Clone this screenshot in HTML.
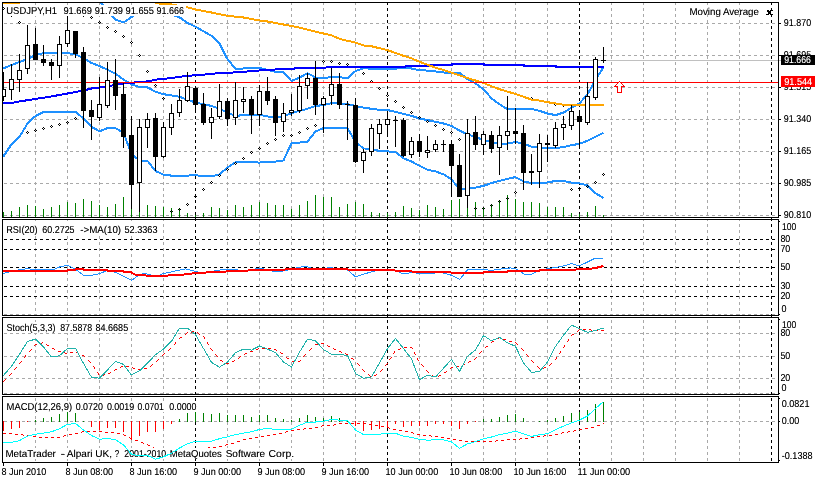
<!DOCTYPE html><html><head><meta charset="utf-8"><title>USDJPY,H1</title><style>html,body{margin:0;padding:0;background:#fff}svg{display:block}text{font-family:"Liberation Sans",sans-serif;font-size:10px}</style></head><body>
<svg width="816" height="479" viewBox="0 0 816 479" shape-rendering="crispEdges">
<rect x="0" y="0" width="816" height="479" fill="#fff"/>
<defs>
<clipPath id="cm"><rect x="3" y="3" width="775" height="214"/></clipPath>
<clipPath id="cr"><rect x="3" y="220" width="775" height="95"/></clipPath>
<clipPath id="cs"><rect x="3" y="318" width="775" height="76"/></clipPath>
<clipPath id="cd"><rect x="3" y="397" width="775" height="65"/></clipPath>
<clipPath id="call"><rect x="3" y="3" width="775" height="214"/><rect x="3" y="220" width="775" height="95"/><rect x="3" y="318" width="775" height="76"/><rect x="3" y="397" width="775" height="65"/></clipPath>
<filter id="th" x="-5%" y="-20%" width="110%" height="140%" color-interpolation-filters="sRGB"><feComponentTransfer><feFuncA type="gamma" amplitude="1.05" exponent="0.8" offset="0"/></feComponentTransfer></filter>
</defs>
<g clip-path="url(#call)">
<line x1="35.5" y1="2" x2="35.5" y2="462" stroke="#a9a9a9" stroke-width="1" stroke-dasharray="3 3"/>
<line x1="67.5" y1="2" x2="67.5" y2="462" stroke="#a9a9a9" stroke-width="1" stroke-dasharray="3 3"/>
<line x1="99.5" y1="2" x2="99.5" y2="462" stroke="#a9a9a9" stroke-width="1" stroke-dasharray="3 3"/>
<line x1="131.5" y1="2" x2="131.5" y2="462" stroke="#a9a9a9" stroke-width="1" stroke-dasharray="3 3"/>
<line x1="163.5" y1="2" x2="163.5" y2="462" stroke="#a9a9a9" stroke-width="1" stroke-dasharray="3 3"/>
<line x1="227.5" y1="2" x2="227.5" y2="462" stroke="#a9a9a9" stroke-width="1" stroke-dasharray="3 3"/>
<line x1="259.5" y1="2" x2="259.5" y2="462" stroke="#a9a9a9" stroke-width="1" stroke-dasharray="3 3"/>
<line x1="291.5" y1="2" x2="291.5" y2="462" stroke="#a9a9a9" stroke-width="1" stroke-dasharray="3 3"/>
<line x1="323.5" y1="2" x2="323.5" y2="462" stroke="#a9a9a9" stroke-width="1" stroke-dasharray="3 3"/>
<line x1="355.5" y1="2" x2="355.5" y2="462" stroke="#a9a9a9" stroke-width="1" stroke-dasharray="3 3"/>
<line x1="419.5" y1="2" x2="419.5" y2="462" stroke="#a9a9a9" stroke-width="1" stroke-dasharray="3 3"/>
<line x1="451.5" y1="2" x2="451.5" y2="462" stroke="#a9a9a9" stroke-width="1" stroke-dasharray="3 3"/>
<line x1="483.5" y1="2" x2="483.5" y2="462" stroke="#a9a9a9" stroke-width="1" stroke-dasharray="3 3"/>
<line x1="515.5" y1="2" x2="515.5" y2="462" stroke="#a9a9a9" stroke-width="1" stroke-dasharray="3 3"/>
<line x1="547.5" y1="2" x2="547.5" y2="462" stroke="#a9a9a9" stroke-width="1" stroke-dasharray="3 3"/>
<line x1="611.5" y1="2" x2="611.5" y2="462" stroke="#a9a9a9" stroke-width="1" stroke-dasharray="3 3"/>
<line x1="643.5" y1="2" x2="643.5" y2="462" stroke="#a9a9a9" stroke-width="1" stroke-dasharray="3 3"/>
<line x1="675.5" y1="2" x2="675.5" y2="462" stroke="#a9a9a9" stroke-width="1" stroke-dasharray="3 3"/>
<line x1="707.5" y1="2" x2="707.5" y2="462" stroke="#a9a9a9" stroke-width="1" stroke-dasharray="3 3"/>
<line x1="739.5" y1="2" x2="739.5" y2="462" stroke="#a9a9a9" stroke-width="1" stroke-dasharray="3 3"/>
<line x1="4" y1="23.5" x2="778" y2="23.5" stroke="#a9a9a9" stroke-width="1" stroke-dasharray="3 3"/>
<line x1="4" y1="55.5" x2="778" y2="55.5" stroke="#a9a9a9" stroke-width="1" stroke-dasharray="3 3"/>
<line x1="4" y1="87.5" x2="778" y2="87.5" stroke="#a9a9a9" stroke-width="1" stroke-dasharray="3 3"/>
<line x1="4" y1="119.5" x2="778" y2="119.5" stroke="#a9a9a9" stroke-width="1" stroke-dasharray="3 3"/>
<line x1="4" y1="151.5" x2="778" y2="151.5" stroke="#a9a9a9" stroke-width="1" stroke-dasharray="3 3"/>
<line x1="4" y1="183.5" x2="778" y2="183.5" stroke="#a9a9a9" stroke-width="1" stroke-dasharray="3 3"/>
<line x1="4" y1="215.5" x2="778" y2="215.5" stroke="#a9a9a9" stroke-width="1" stroke-dasharray="3 3"/>
<line x1="4" y1="314.5" x2="778" y2="314.5" stroke="#a9a9a9" stroke-width="1" stroke-dasharray="3 3"/>
<line x1="4" y1="333.5" x2="778" y2="333.5" stroke="#a9a9a9" stroke-width="1" stroke-dasharray="3 3"/>
<line x1="4" y1="356.5" x2="778" y2="356.5" stroke="#a9a9a9" stroke-width="1" stroke-dasharray="3 3"/>
<line x1="4" y1="378.5" x2="778" y2="378.5" stroke="#a9a9a9" stroke-width="1" stroke-dasharray="3 3"/>
<line x1="4" y1="393.5" x2="778" y2="393.5" stroke="#a9a9a9" stroke-width="1" stroke-dasharray="3 3"/>
<line x1="4" y1="421.5" x2="778" y2="421.5" stroke="#a9a9a9" stroke-width="1" stroke-dasharray="3 3"/>
</g>
<line x1="195.5" y1="2" x2="195.5" y2="462" stroke="#000" stroke-width="1" stroke-dasharray="3 3"/>
<line x1="387.5" y1="2" x2="387.5" y2="462" stroke="#000" stroke-width="1" stroke-dasharray="3 3"/>
<line x1="579.5" y1="2" x2="579.5" y2="462" stroke="#000" stroke-width="1" stroke-dasharray="3 3"/>
<line x1="771.5" y1="2" x2="771.5" y2="462" stroke="#000" stroke-width="1" stroke-dasharray="3 3"/>
<g clip-path="url(#cr)">
<line x1="4" y1="239.5" x2="778" y2="239.5" stroke="#000" stroke-width="1" stroke-dasharray="3 3"/>
<line x1="4" y1="249.5" x2="778" y2="249.5" stroke="#000" stroke-width="1" stroke-dasharray="3 3"/>
<line x1="4" y1="267.5" x2="778" y2="267.5" stroke="#000" stroke-width="1" stroke-dasharray="3 3"/>
<line x1="4" y1="286.5" x2="778" y2="286.5" stroke="#000" stroke-width="1" stroke-dasharray="3 3"/>
<line x1="4" y1="296.5" x2="778" y2="296.5" stroke="#000" stroke-width="1" stroke-dasharray="3 3"/>
</g>
<g clip-path="url(#cm)">
<rect x="3" y="60" width="775" height="1" fill="#c0c0c0"/>
<rect x="3" y="212" width="1" height="5" fill="#008000"/>
<rect x="11" y="211" width="1" height="6" fill="#008000"/>
<rect x="19" y="207" width="1" height="10" fill="#008000"/>
<rect x="27" y="205" width="1" height="12" fill="#008000"/>
<rect x="35" y="206" width="1" height="11" fill="#008000"/>
<rect x="43" y="209" width="1" height="8" fill="#008000"/>
<rect x="51" y="207" width="1" height="10" fill="#008000"/>
<rect x="59" y="205" width="1" height="12" fill="#008000"/>
<rect x="67" y="202" width="1" height="15" fill="#008000"/>
<rect x="75" y="203" width="1" height="14" fill="#008000"/>
<rect x="83" y="199" width="1" height="18" fill="#008000"/>
<rect x="91" y="201" width="1" height="16" fill="#008000"/>
<rect x="99" y="205" width="1" height="12" fill="#008000"/>
<rect x="107" y="207" width="1" height="10" fill="#008000"/>
<rect x="115" y="204" width="1" height="13" fill="#008000"/>
<rect x="123" y="197" width="1" height="20" fill="#008000"/>
<rect x="131" y="195" width="1" height="22" fill="#008000"/>
<rect x="139" y="200" width="1" height="17" fill="#008000"/>
<rect x="147" y="205" width="1" height="12" fill="#008000"/>
<rect x="155" y="206" width="1" height="11" fill="#008000"/>
<rect x="163" y="207" width="1" height="10" fill="#008000"/>
<rect x="171" y="208" width="1" height="9" fill="#008000"/>
<rect x="179" y="208" width="1" height="9" fill="#008000"/>
<rect x="187" y="213" width="1" height="4" fill="#008000"/>
<rect x="195" y="215" width="1" height="2" fill="#008000"/>
<rect x="203" y="213" width="1" height="4" fill="#008000"/>
<rect x="211" y="207" width="1" height="10" fill="#008000"/>
<rect x="219" y="208" width="1" height="9" fill="#008000"/>
<rect x="227" y="210" width="1" height="7" fill="#008000"/>
<rect x="235" y="205" width="1" height="12" fill="#008000"/>
<rect x="243" y="207" width="1" height="10" fill="#008000"/>
<rect x="251" y="205" width="1" height="12" fill="#008000"/>
<rect x="259" y="202" width="1" height="15" fill="#008000"/>
<rect x="267" y="203" width="1" height="14" fill="#008000"/>
<rect x="275" y="205" width="1" height="12" fill="#008000"/>
<rect x="283" y="205" width="1" height="12" fill="#008000"/>
<rect x="291" y="209" width="1" height="8" fill="#008000"/>
<rect x="299" y="205" width="1" height="12" fill="#008000"/>
<rect x="307" y="201" width="1" height="16" fill="#008000"/>
<rect x="315" y="195" width="1" height="22" fill="#008000"/>
<rect x="323" y="197" width="1" height="20" fill="#008000"/>
<rect x="331" y="197" width="1" height="20" fill="#008000"/>
<rect x="339" y="207" width="1" height="10" fill="#008000"/>
<rect x="347" y="204" width="1" height="13" fill="#008000"/>
<rect x="355" y="202" width="1" height="15" fill="#008000"/>
<rect x="363" y="204" width="1" height="13" fill="#008000"/>
<rect x="371" y="212" width="1" height="5" fill="#008000"/>
<rect x="379" y="213" width="1" height="4" fill="#008000"/>
<rect x="387" y="213" width="1" height="4" fill="#008000"/>
<rect x="395" y="212" width="1" height="5" fill="#008000"/>
<rect x="403" y="206" width="1" height="11" fill="#008000"/>
<rect x="411" y="208" width="1" height="9" fill="#008000"/>
<rect x="419" y="210" width="1" height="7" fill="#008000"/>
<rect x="427" y="205" width="1" height="12" fill="#008000"/>
<rect x="435" y="207" width="1" height="10" fill="#008000"/>
<rect x="443" y="209" width="1" height="8" fill="#008000"/>
<rect x="451" y="200" width="1" height="17" fill="#008000"/>
<rect x="459" y="199" width="1" height="18" fill="#008000"/>
<rect x="467" y="200" width="1" height="17" fill="#008000"/>
<rect x="475" y="202" width="1" height="15" fill="#008000"/>
<rect x="483" y="207" width="1" height="10" fill="#008000"/>
<rect x="491" y="204" width="1" height="13" fill="#008000"/>
<rect x="499" y="201" width="1" height="16" fill="#008000"/>
<rect x="507" y="195" width="1" height="22" fill="#008000"/>
<rect x="515" y="199" width="1" height="18" fill="#008000"/>
<rect x="523" y="202" width="1" height="15" fill="#008000"/>
<rect x="531" y="202" width="1" height="15" fill="#008000"/>
<rect x="539" y="203" width="1" height="14" fill="#008000"/>
<rect x="547" y="207" width="1" height="10" fill="#008000"/>
<rect x="555" y="207" width="1" height="10" fill="#008000"/>
<rect x="563" y="207" width="1" height="10" fill="#008000"/>
<rect x="571" y="213" width="1" height="4" fill="#008000"/>
<rect x="579" y="214" width="1" height="3" fill="#008000"/>
<rect x="587" y="212" width="1" height="5" fill="#008000"/>
<rect x="595" y="206" width="1" height="11" fill="#008000"/>
<rect x="603" y="215" width="1" height="2" fill="#008000"/>
<polyline points="3.0,-20.0 11.5,-20.0 19.5,-20.0 27.5,-20.0 35.5,-20.0 43.5,-20.0 51.5,-20.0 59.5,-20.0 67.5,-20.0 75.5,-20.0 83.5,-20.0 91.5,-20.0 99.5,1.0 107.5,11.0 115.5,19.5 123.5,22.5 131.5,17.0 139.5,12.0 147.5,10.0 155.5,10.0 163.5,12.0 171.5,14.5 179.5,17.3 187.5,23.0 195.5,26.7 203.5,31.3 211.5,35.9 219.5,43.6 227.5,59.2 235.5,68.8 243.5,68.5 251.5,67.7 259.5,67.7 267.5,70.0 275.5,71.7 283.5,72.0 291.5,81.0 299.5,77.6 307.5,73.2 315.5,77.5 323.5,78.2 331.5,77.0 339.5,77.0 347.5,78.5 355.5,71.0 363.5,68.2 371.5,68.8 379.5,69.0 387.5,69.3 395.5,68.8 403.5,67.5 411.5,68.5 419.5,70.2 427.5,70.6 435.5,71.5 443.5,72.5 451.5,72.7 459.5,72.7 467.5,79.2 475.5,83.4 483.5,89.2 491.5,98.4 499.5,104.3 507.5,109.3 515.5,108.8 523.5,108.8 531.5,108.8 539.5,110.9 547.5,113.5 555.5,115.1 563.5,112.6 571.5,107.6 579.5,103.4 587.5,94.2 595.5,80.0 603.5,67.2" fill="none" stroke="#1e90ff" stroke-width="2" stroke-linejoin="round"/>
<polyline points="3.0,68.5 11.5,65.0 19.5,62.0 27.5,59.0 35.5,55.0 43.5,53.2 51.5,53.0 59.5,53.0 67.5,53.0 75.5,54.5 83.5,58.0 91.5,63.0 99.5,66.0 107.5,69.8 115.5,73.8 123.5,79.5 131.5,84.5 139.5,87.0 147.5,87.5 155.5,91.7 163.5,94.2 171.5,95.4 179.5,96.7 187.5,99.7 195.5,102.6 203.5,104.3 211.5,105.9 219.5,108.8 227.5,112.6 235.5,115.9 243.5,115.1 251.5,114.8 259.5,114.8 267.5,116.4 275.5,117.6 283.5,116.4 291.5,113.1 299.5,110.9 307.5,108.8 315.5,105.9 323.5,105.1 331.5,103.1 339.5,103.1 347.5,104.3 355.5,105.9 363.5,107.6 371.5,108.8 379.5,109.8 387.5,110.1 395.5,111.8 403.5,113.8 411.5,115.8 419.5,118.5 427.5,120.1 435.5,121.8 443.5,123.5 451.5,126.0 459.5,130.5 467.5,134.3 475.5,136.8 483.5,140.2 491.5,142.2 499.5,144.0 507.5,143.6 515.5,142.1 523.5,143.4 531.5,146.8 539.5,147.6 547.5,147.6 555.5,148.0 563.5,147.1 571.5,145.2 579.5,143.8 587.5,140.7 595.5,136.8 603.5,132.7" fill="none" stroke="#1e90ff" stroke-width="2" stroke-linejoin="round"/>
<polyline points="3.0,157.0 11.5,144.3 19.5,136.8 27.5,123.5 35.5,116.0 43.5,112.1 51.5,111.8 59.5,111.8 67.5,111.8 75.5,111.8 83.5,118.5 91.5,126.8 99.5,131.3 107.5,128.1 115.5,128.1 123.5,132.7 131.5,154.2 139.5,160.3 147.5,160.9 155.5,170.9 163.5,174.8 171.5,175.6 179.5,175.6 187.5,175.6 195.5,175.1 203.5,176.4 211.5,176.4 219.5,174.3 227.5,167.6 235.5,162.2 243.5,161.7 251.5,162.2 259.5,162.6 267.5,161.7 275.5,161.6 283.5,160.4 291.5,143.2 299.5,142.6 307.5,141.6 315.5,131.5 323.5,128.1 331.5,128.1 339.5,128.1 347.5,128.1 355.5,141.8 363.5,148.5 371.5,148.6 379.5,151.2 387.5,151.4 395.5,152.0 403.5,158.4 411.5,161.5 419.5,165.9 427.5,169.7 435.5,171.4 443.5,174.3 451.5,179.3 459.5,189.5 467.5,188.3 475.5,187.6 483.5,185.9 491.5,183.1 499.5,180.9 507.5,178.8 515.5,177.1 523.5,181.4 531.5,183.1 539.5,183.1 547.5,182.5 555.5,180.9 563.5,180.9 571.5,182.6 579.5,183.4 587.5,185.4 595.5,193.1 603.5,198.1" fill="none" stroke="#1e90ff" stroke-width="2" stroke-linejoin="round"/>
<path d="M19 21h1v1h1v1h-1v1h-1v-1h-1v-1h1z M19 22v1h1v-1z" fill="#000" fill-rule="evenodd"/>
<path d="M27 131h1v1h1v1h-1v1h-1v-1h-1v-1h1z M27 132v1h1v-1z" fill="#000" fill-rule="evenodd"/>
<path d="M35 129h1v1h1v1h-1v1h-1v-1h-1v-1h1z M35 130v1h1v-1z" fill="#000" fill-rule="evenodd"/>
<path d="M43 127h1v1h1v1h-1v1h-1v-1h-1v-1h1z M43 128v1h1v-1z" fill="#000" fill-rule="evenodd"/>
<path d="M51 125h1v1h1v1h-1v1h-1v-1h-1v-1h1z M51 126v1h1v-1z" fill="#000" fill-rule="evenodd"/>
<path d="M59 123h1v1h1v1h-1v1h-1v-1h-1v-1h1z M59 124v1h1v-1z" fill="#000" fill-rule="evenodd"/>
<path d="M67 121h1v1h1v1h-1v1h-1v-1h-1v-1h1z M67 122v1h1v-1z" fill="#000" fill-rule="evenodd"/>
<path d="M75 117h1v1h1v1h-1v1h-1v-1h-1v-1h1z M75 118v1h1v-1z" fill="#000" fill-rule="evenodd"/>
<path d="M91 16h1v1h1v1h-1v1h-1v-1h-1v-1h1z M91 17v1h1v-1z" fill="#000" fill-rule="evenodd"/>
<path d="M99 21h1v1h1v1h-1v1h-1v-1h-1v-1h1z M99 22v1h1v-1z" fill="#000" fill-rule="evenodd"/>
<path d="M107 26h1v1h1v1h-1v1h-1v-1h-1v-1h1z M107 27v1h1v-1z" fill="#000" fill-rule="evenodd"/>
<path d="M115 30h1v1h1v1h-1v1h-1v-1h-1v-1h1z M115 31v1h1v-1z" fill="#000" fill-rule="evenodd"/>
<path d="M123 35h1v1h1v1h-1v1h-1v-1h-1v-1h1z M123 36v1h1v-1z" fill="#000" fill-rule="evenodd"/>
<path d="M131 41h1v1h1v1h-1v1h-1v-1h-1v-1h1z M131 42v1h1v-1z" fill="#000" fill-rule="evenodd"/>
<path d="M139 54h1v1h1v1h-1v1h-1v-1h-1v-1h1z M139 55v1h1v-1z" fill="#000" fill-rule="evenodd"/>
<path d="M147 70h1v1h1v1h-1v1h-1v-1h-1v-1h1z M147 71v1h1v-1z" fill="#000" fill-rule="evenodd"/>
<path d="M155 84h1v1h1v1h-1v1h-1v-1h-1v-1h1z M155 85v1h1v-1z" fill="#000" fill-rule="evenodd"/>
<path d="M163 97h1v1h1v1h-1v1h-1v-1h-1v-1h1z M163 98v1h1v-1z" fill="#000" fill-rule="evenodd"/>
<path d="M171 210h1v1h1v1h-1v1h-1v-1h-1v-1h1z M171 211v1h1v-1z" fill="#000" fill-rule="evenodd"/>
<path d="M179 208h1v1h1v1h-1v1h-1v-1h-1v-1h1z M179 209v1h1v-1z" fill="#000" fill-rule="evenodd"/>
<path d="M187 203h1v1h1v1h-1v1h-1v-1h-1v-1h1z M187 204v1h1v-1z" fill="#000" fill-rule="evenodd"/>
<path d="M195 195h1v1h1v1h-1v1h-1v-1h-1v-1h1z M195 196v1h1v-1z" fill="#000" fill-rule="evenodd"/>
<path d="M203 188h1v1h1v1h-1v1h-1v-1h-1v-1h1z M203 189v1h1v-1z" fill="#000" fill-rule="evenodd"/>
<path d="M211 181h1v1h1v1h-1v1h-1v-1h-1v-1h1z M211 182v1h1v-1z" fill="#000" fill-rule="evenodd"/>
<path d="M219 174h1v1h1v1h-1v1h-1v-1h-1v-1h1z M219 175v1h1v-1z" fill="#000" fill-rule="evenodd"/>
<path d="M227 168h1v1h1v1h-1v1h-1v-1h-1v-1h1z M227 169v1h1v-1z" fill="#000" fill-rule="evenodd"/>
<path d="M235 162h1v1h1v1h-1v1h-1v-1h-1v-1h1z M235 163v1h1v-1z" fill="#000" fill-rule="evenodd"/>
<path d="M243 157h1v1h1v1h-1v1h-1v-1h-1v-1h1z M243 158v1h1v-1z" fill="#000" fill-rule="evenodd"/>
<path d="M251 151h1v1h1v1h-1v1h-1v-1h-1v-1h1z M251 152v1h1v-1z" fill="#000" fill-rule="evenodd"/>
<path d="M259 147h1v1h1v1h-1v1h-1v-1h-1v-1h1z M259 148v1h1v-1z" fill="#000" fill-rule="evenodd"/>
<path d="M267 142h1v1h1v1h-1v1h-1v-1h-1v-1h1z M267 143v1h1v-1z" fill="#000" fill-rule="evenodd"/>
<path d="M275 138h1v1h1v1h-1v1h-1v-1h-1v-1h1z M275 139v1h1v-1z" fill="#000" fill-rule="evenodd"/>
<path d="M283 134h1v1h1v1h-1v1h-1v-1h-1v-1h1z M283 135v1h1v-1z" fill="#000" fill-rule="evenodd"/>
<path d="M291 134h1v1h1v1h-1v1h-1v-1h-1v-1h1z M291 135v1h1v-1z" fill="#000" fill-rule="evenodd"/>
<path d="M299 131h1v1h1v1h-1v1h-1v-1h-1v-1h1z M299 132v1h1v-1z" fill="#000" fill-rule="evenodd"/>
<path d="M307 127h1v1h1v1h-1v1h-1v-1h-1v-1h1z M307 128v1h1v-1z" fill="#000" fill-rule="evenodd"/>
<path d="M315 124h1v1h1v1h-1v1h-1v-1h-1v-1h1z M315 125v1h1v-1z" fill="#000" fill-rule="evenodd"/>
<path d="M323 60h1v1h1v1h-1v1h-1v-1h-1v-1h1z M323 61v1h1v-1z" fill="#000" fill-rule="evenodd"/>
<path d="M331 60h1v1h1v1h-1v1h-1v-1h-1v-1h1z M331 61v1h1v-1z" fill="#000" fill-rule="evenodd"/>
<path d="M339 62h1v1h1v1h-1v1h-1v-1h-1v-1h1z M339 63v1h1v-1z" fill="#000" fill-rule="evenodd"/>
<path d="M347 63h1v1h1v1h-1v1h-1v-1h-1v-1h1z M347 64v1h1v-1z" fill="#000" fill-rule="evenodd"/>
<path d="M363 72h1v1h1v1h-1v1h-1v-1h-1v-1h1z M363 73v1h1v-1z" fill="#000" fill-rule="evenodd"/>
<path d="M371 80h1v1h1v1h-1v1h-1v-1h-1v-1h1z M371 81v1h1v-1z" fill="#000" fill-rule="evenodd"/>
<path d="M379 87h1v1h1v1h-1v1h-1v-1h-1v-1h1z M379 88v1h1v-1z" fill="#000" fill-rule="evenodd"/>
<path d="M387 94h1v1h1v1h-1v1h-1v-1h-1v-1h1z M387 95v1h1v-1z" fill="#000" fill-rule="evenodd"/>
<path d="M395 100h1v1h1v1h-1v1h-1v-1h-1v-1h1z M395 101v1h1v-1z" fill="#000" fill-rule="evenodd"/>
<path d="M403 106h1v1h1v1h-1v1h-1v-1h-1v-1h1z M403 107v1h1v-1z" fill="#000" fill-rule="evenodd"/>
<path d="M411 111h1v1h1v1h-1v1h-1v-1h-1v-1h1z M411 112v1h1v-1z" fill="#000" fill-rule="evenodd"/>
<path d="M419 116h1v1h1v1h-1v1h-1v-1h-1v-1h1z M419 117v1h1v-1z" fill="#000" fill-rule="evenodd"/>
<path d="M427 120h1v1h1v1h-1v1h-1v-1h-1v-1h1z M427 121v1h1v-1z" fill="#000" fill-rule="evenodd"/>
<path d="M435 124h1v1h1v1h-1v1h-1v-1h-1v-1h1z M435 125v1h1v-1z" fill="#000" fill-rule="evenodd"/>
<path d="M443 128h1v1h1v1h-1v1h-1v-1h-1v-1h1z M443 129v1h1v-1z" fill="#000" fill-rule="evenodd"/>
<path d="M451 131h1v1h1v1h-1v1h-1v-1h-1v-1h1z M451 132v1h1v-1z" fill="#000" fill-rule="evenodd"/>
<path d="M459 138h1v1h1v1h-1v1h-1v-1h-1v-1h1z M459 139v1h1v-1z" fill="#000" fill-rule="evenodd"/>
<path d="M475 207h1v1h1v1h-1v1h-1v-1h-1v-1h1z M475 208v1h1v-1z" fill="#000" fill-rule="evenodd"/>
<path d="M483 207h1v1h1v1h-1v1h-1v-1h-1v-1h1z M483 208v1h1v-1z" fill="#000" fill-rule="evenodd"/>
<path d="M491 204h1v1h1v1h-1v1h-1v-1h-1v-1h1z M491 205v1h1v-1z" fill="#000" fill-rule="evenodd"/>
<path d="M499 200h1v1h1v1h-1v1h-1v-1h-1v-1h1z M499 201v1h1v-1z" fill="#000" fill-rule="evenodd"/>
<path d="M507 197h1v1h1v1h-1v1h-1v-1h-1v-1h1z M507 198v1h1v-1z" fill="#000" fill-rule="evenodd"/>
<path d="M515 191h1v1h1v1h-1v1h-1v-1h-1v-1h1z M515 192v1h1v-1z" fill="#000" fill-rule="evenodd"/>
<path d="M531 97h1v1h1v1h-1v1h-1v-1h-1v-1h1z M531 98v1h1v-1z" fill="#000" fill-rule="evenodd"/>
<path d="M555 103h1v1h1v1h-1v1h-1v-1h-1v-1h1z M555 104v1h1v-1z" fill="#000" fill-rule="evenodd"/>
<path d="M563 104h1v1h1v1h-1v1h-1v-1h-1v-1h1z M563 105v1h1v-1z" fill="#000" fill-rule="evenodd"/>
<path d="M571 188h1v1h1v1h-1v1h-1v-1h-1v-1h1z M571 189v1h1v-1z" fill="#000" fill-rule="evenodd"/>
<path d="M579 187h1v1h1v1h-1v1h-1v-1h-1v-1h1z M579 188v1h1v-1z" fill="#000" fill-rule="evenodd"/>
<path d="M587 185h1v1h1v1h-1v1h-1v-1h-1v-1h1z M587 186v1h1v-1z" fill="#000" fill-rule="evenodd"/>
<path d="M595 181h1v1h1v1h-1v1h-1v-1h-1v-1h1z M595 182v1h1v-1z" fill="#000" fill-rule="evenodd"/>
<path d="M603 173h1v1h1v1h-1v1h-1v-1h-1v-1h1z M603 174v1h1v-1z" fill="#000" fill-rule="evenodd"/>
<rect x="11" y="16" width="1" height="1" fill="#000"/><rect x="83" y="16" width="1" height="1" fill="#000"/>
<polyline points="3.0,103.1 11.5,103.1 19.5,101.4 27.5,100.2 35.5,98.9 43.5,97.7 51.5,96.4 59.5,95.0 67.5,93.5 75.5,92.0 83.5,90.5 91.5,88.5 99.5,87.5 107.5,86.4 115.5,84.7 123.5,83.5 131.5,82.7 139.5,82.2 147.5,81.4 155.5,79.7 163.5,78.9 171.5,78.0 179.5,76.9 187.5,75.8 195.5,75.3 203.5,74.7 211.5,73.9 219.5,73.0 227.5,72.7 235.5,72.4 243.5,72.0 251.5,71.0 259.5,70.5 267.5,70.0 275.5,69.5 283.5,69.0 291.5,68.7 299.5,68.2 307.5,68.0 315.5,67.8 323.5,67.8 331.5,67.0 339.5,67.0 347.5,67.0 355.5,67.0 363.5,67.0 371.5,67.0 379.5,67.0 387.5,67.0 395.5,67.0 403.5,67.0 405.5,67.0 405.5,66.0 429.5,66.0 429.5,65.0 452.0,65.0 452.0,64.0 484.0,64.0 484.0,65.0 524.0,65.0 524.0,66.0 556.0,66.0 556.0,67.0 604.0,67.0" fill="none" stroke="#0000ff" stroke-width="2" stroke-linejoin="round"/>
<rect x="3" y="3" width="17" height="1" fill="#ffa500"/>
<polyline points="155.5,3.3 163.5,3.8 171.5,4.4 179.5,6.0 187.5,7.3 195.5,9.5 203.5,11.0 211.5,12.5 219.5,14.2 227.5,15.9 235.5,16.7 243.5,17.5 251.5,19.0 259.5,20.4 267.5,21.5 275.5,23.0 283.5,24.5 291.5,26.0 299.5,27.6 307.5,29.6 315.5,31.7 323.5,33.5 331.5,35.4 339.5,38.8 347.5,40.8 355.5,42.6 363.5,45.4 371.5,46.3 379.5,48.2 387.5,50.1 395.5,53.0 403.5,55.8 411.5,58.3 419.5,61.8 427.5,64.7 435.5,67.7 443.5,70.0 451.5,72.6 459.5,75.3 467.5,78.0 475.5,80.5 483.5,83.0 491.5,86.2 499.5,89.2 507.5,91.7 515.5,93.9 523.5,96.7 531.5,99.7 539.5,100.6 547.5,102.2 555.5,103.4 563.5,104.8 571.5,105.1 579.5,105.1 587.5,105.1 595.5,105.1 603.5,105.1" fill="none" stroke="#ffa500" stroke-width="2" stroke-linejoin="round"/>
<rect x="3" y="82" width="775" height="1" fill="#ff0000"/>
<rect x="3" y="72" width="1" height="29" fill="#000"/>
<rect x="1" y="89" width="5" height="8" fill="#000"/>
<rect x="2" y="90" width="3" height="6" fill="#fff"/>
<rect x="11" y="64" width="1" height="36" fill="#000"/>
<rect x="9" y="79" width="5" height="11" fill="#000"/>
<rect x="10" y="80" width="3" height="9" fill="#fff"/>
<rect x="19" y="54" width="1" height="38" fill="#000"/>
<rect x="17" y="70" width="5" height="10" fill="#000"/>
<rect x="18" y="71" width="3" height="8" fill="#fff"/>
<rect x="27" y="25" width="1" height="49" fill="#000"/>
<rect x="25" y="45" width="5" height="24" fill="#000"/>
<rect x="26" y="46" width="3" height="22" fill="#fff"/>
<rect x="35" y="28" width="1" height="32" fill="#000"/>
<rect x="33" y="44" width="5" height="16" fill="#000"/>
<rect x="43" y="45" width="1" height="21" fill="#000"/>
<rect x="41" y="59" width="5" height="4" fill="#000"/>
<rect x="51" y="59" width="1" height="21" fill="#000"/>
<rect x="49" y="62" width="5" height="4" fill="#000"/>
<rect x="59" y="36" width="1" height="42" fill="#000"/>
<rect x="57" y="44" width="5" height="22" fill="#000"/>
<rect x="58" y="45" width="3" height="20" fill="#fff"/>
<rect x="67" y="16" width="1" height="31" fill="#000"/>
<rect x="65" y="30" width="5" height="14" fill="#000"/>
<rect x="66" y="31" width="3" height="12" fill="#fff"/>
<rect x="75" y="31" width="1" height="27" fill="#000"/>
<rect x="73" y="31" width="5" height="23" fill="#000"/>
<rect x="83" y="47" width="1" height="81" fill="#000"/>
<rect x="81" y="52" width="5" height="59" fill="#000"/>
<rect x="91" y="100" width="1" height="40" fill="#000"/>
<rect x="89" y="110" width="5" height="7" fill="#000"/>
<rect x="99" y="77" width="1" height="44" fill="#000"/>
<rect x="97" y="104" width="5" height="14" fill="#000"/>
<rect x="98" y="105" width="3" height="12" fill="#fff"/>
<rect x="107" y="62" width="1" height="46" fill="#000"/>
<rect x="105" y="80" width="5" height="26" fill="#000"/>
<rect x="106" y="81" width="3" height="24" fill="#fff"/>
<rect x="115" y="59" width="1" height="51" fill="#000"/>
<rect x="113" y="80" width="5" height="16" fill="#000"/>
<rect x="123" y="83" width="1" height="65" fill="#000"/>
<rect x="121" y="94" width="5" height="43" fill="#000"/>
<rect x="131" y="116" width="1" height="93" fill="#000"/>
<rect x="129" y="135" width="5" height="50" fill="#000"/>
<rect x="139" y="119" width="1" height="93" fill="#000"/>
<rect x="137" y="127" width="5" height="56" fill="#000"/>
<rect x="138" y="128" width="3" height="54" fill="#fff"/>
<rect x="147" y="113" width="1" height="35" fill="#000"/>
<rect x="145" y="119" width="5" height="9" fill="#000"/>
<rect x="146" y="120" width="3" height="7" fill="#fff"/>
<rect x="155" y="113" width="1" height="58" fill="#000"/>
<rect x="153" y="118" width="5" height="39" fill="#000"/>
<rect x="163" y="122" width="1" height="36" fill="#000"/>
<rect x="161" y="127" width="5" height="30" fill="#000"/>
<rect x="162" y="128" width="3" height="28" fill="#fff"/>
<rect x="171" y="104" width="1" height="31" fill="#000"/>
<rect x="169" y="113" width="5" height="15" fill="#000"/>
<rect x="170" y="114" width="3" height="13" fill="#fff"/>
<rect x="179" y="89" width="1" height="28" fill="#000"/>
<rect x="177" y="100" width="5" height="13" fill="#000"/>
<rect x="178" y="101" width="3" height="11" fill="#fff"/>
<rect x="187" y="72" width="1" height="30" fill="#000"/>
<rect x="185" y="86" width="5" height="15" fill="#000"/>
<rect x="186" y="87" width="3" height="13" fill="#fff"/>
<rect x="195" y="86" width="1" height="27" fill="#000"/>
<rect x="193" y="88" width="5" height="17" fill="#000"/>
<rect x="203" y="93" width="1" height="32" fill="#000"/>
<rect x="201" y="104" width="5" height="19" fill="#000"/>
<rect x="211" y="108" width="1" height="31" fill="#000"/>
<rect x="209" y="117" width="5" height="6" fill="#000"/>
<rect x="210" y="118" width="3" height="4" fill="#fff"/>
<rect x="219" y="84" width="1" height="35" fill="#000"/>
<rect x="217" y="101" width="5" height="16" fill="#000"/>
<rect x="218" y="102" width="3" height="14" fill="#fff"/>
<rect x="227" y="98" width="1" height="28" fill="#000"/>
<rect x="225" y="101" width="5" height="18" fill="#000"/>
<rect x="235" y="82" width="1" height="43" fill="#000"/>
<rect x="233" y="100" width="5" height="18" fill="#000"/>
<rect x="234" y="101" width="3" height="16" fill="#fff"/>
<rect x="243" y="87" width="1" height="26" fill="#000"/>
<rect x="241" y="99" width="5" height="3" fill="#000"/>
<rect x="242" y="100" width="3" height="1" fill="#fff"/>
<rect x="251" y="96" width="1" height="38" fill="#000"/>
<rect x="249" y="99" width="5" height="16" fill="#000"/>
<rect x="259" y="85" width="1" height="41" fill="#000"/>
<rect x="257" y="91" width="5" height="24" fill="#000"/>
<rect x="258" y="92" width="3" height="22" fill="#fff"/>
<rect x="267" y="77" width="1" height="28" fill="#000"/>
<rect x="265" y="91" width="5" height="10" fill="#000"/>
<rect x="275" y="96" width="1" height="40" fill="#000"/>
<rect x="273" y="99" width="5" height="24" fill="#000"/>
<rect x="283" y="103" width="1" height="29" fill="#000"/>
<rect x="281" y="113" width="5" height="9" fill="#000"/>
<rect x="282" y="114" width="3" height="7" fill="#fff"/>
<rect x="291" y="94" width="1" height="22" fill="#000"/>
<rect x="289" y="110" width="5" height="3" fill="#000"/>
<rect x="290" y="111" width="3" height="1" fill="#fff"/>
<rect x="299" y="75" width="1" height="38" fill="#000"/>
<rect x="297" y="86" width="5" height="25" fill="#000"/>
<rect x="298" y="87" width="3" height="23" fill="#fff"/>
<rect x="307" y="73" width="1" height="26" fill="#000"/>
<rect x="305" y="78" width="5" height="8" fill="#000"/>
<rect x="306" y="79" width="3" height="6" fill="#fff"/>
<rect x="315" y="61" width="1" height="54" fill="#000"/>
<rect x="313" y="78" width="5" height="27" fill="#000"/>
<rect x="323" y="96" width="1" height="37" fill="#000"/>
<rect x="321" y="98" width="5" height="7" fill="#000"/>
<rect x="322" y="99" width="3" height="5" fill="#fff"/>
<rect x="331" y="68" width="1" height="37" fill="#000"/>
<rect x="329" y="84" width="5" height="12" fill="#000"/>
<rect x="330" y="85" width="3" height="10" fill="#fff"/>
<rect x="339" y="73" width="1" height="36" fill="#000"/>
<rect x="337" y="84" width="5" height="21" fill="#000"/>
<rect x="347" y="101" width="1" height="39" fill="#000"/>
<rect x="345" y="104" width="5" height="1" fill="#000"/>
<rect x="355" y="98" width="1" height="65" fill="#000"/>
<rect x="353" y="105" width="5" height="57" fill="#000"/>
<rect x="363" y="149" width="1" height="24" fill="#000"/>
<rect x="361" y="152" width="5" height="9" fill="#000"/>
<rect x="362" y="153" width="3" height="7" fill="#fff"/>
<rect x="371" y="124" width="1" height="32" fill="#000"/>
<rect x="369" y="128" width="5" height="24" fill="#000"/>
<rect x="370" y="129" width="3" height="22" fill="#fff"/>
<rect x="379" y="119" width="1" height="30" fill="#000"/>
<rect x="377" y="124" width="5" height="10" fill="#000"/>
<rect x="378" y="125" width="3" height="8" fill="#fff"/>
<rect x="387" y="112" width="1" height="25" fill="#000"/>
<rect x="385" y="119" width="5" height="6" fill="#000"/>
<rect x="386" y="120" width="3" height="4" fill="#fff"/>
<rect x="395" y="116" width="1" height="31" fill="#000"/>
<rect x="393" y="120" width="5" height="1" fill="#000"/>
<rect x="403" y="118" width="1" height="39" fill="#000"/>
<rect x="401" y="120" width="5" height="36" fill="#000"/>
<rect x="411" y="137" width="1" height="21" fill="#000"/>
<rect x="409" y="141" width="5" height="14" fill="#000"/>
<rect x="410" y="142" width="3" height="12" fill="#fff"/>
<rect x="419" y="134" width="1" height="23" fill="#000"/>
<rect x="417" y="141" width="5" height="11" fill="#000"/>
<rect x="427" y="136" width="1" height="22" fill="#000"/>
<rect x="425" y="150" width="5" height="3" fill="#000"/>
<rect x="426" y="151" width="3" height="1" fill="#fff"/>
<rect x="435" y="140" width="1" height="12" fill="#000"/>
<rect x="433" y="144" width="5" height="6" fill="#000"/>
<rect x="434" y="145" width="3" height="4" fill="#fff"/>
<rect x="443" y="140" width="1" height="12" fill="#000"/>
<rect x="441" y="144" width="5" height="1" fill="#000"/>
<rect x="451" y="140" width="1" height="57" fill="#000"/>
<rect x="449" y="144" width="5" height="22" fill="#000"/>
<rect x="459" y="154" width="1" height="43" fill="#000"/>
<rect x="457" y="165" width="5" height="32" fill="#000"/>
<rect x="467" y="119" width="1" height="89" fill="#000"/>
<rect x="465" y="133" width="5" height="63" fill="#000"/>
<rect x="466" y="134" width="3" height="61" fill="#fff"/>
<rect x="475" y="116" width="1" height="34" fill="#000"/>
<rect x="473" y="132" width="5" height="13" fill="#000"/>
<rect x="483" y="131" width="1" height="24" fill="#000"/>
<rect x="481" y="134" width="5" height="11" fill="#000"/>
<rect x="482" y="135" width="3" height="9" fill="#fff"/>
<rect x="491" y="131" width="1" height="22" fill="#000"/>
<rect x="489" y="135" width="5" height="14" fill="#000"/>
<rect x="499" y="126" width="1" height="49" fill="#000"/>
<rect x="497" y="135" width="5" height="13" fill="#000"/>
<rect x="498" y="136" width="3" height="11" fill="#fff"/>
<rect x="507" y="96" width="1" height="54" fill="#000"/>
<rect x="505" y="131" width="5" height="5" fill="#000"/>
<rect x="506" y="132" width="3" height="3" fill="#fff"/>
<rect x="515" y="108" width="1" height="36" fill="#000"/>
<rect x="513" y="131" width="5" height="3" fill="#000"/>
<rect x="523" y="125" width="1" height="65" fill="#000"/>
<rect x="521" y="133" width="5" height="40" fill="#000"/>
<rect x="531" y="154" width="1" height="31" fill="#000"/>
<rect x="529" y="171" width="5" height="2" fill="#000"/>
<rect x="539" y="134" width="1" height="54" fill="#000"/>
<rect x="537" y="143" width="5" height="29" fill="#000"/>
<rect x="538" y="144" width="3" height="27" fill="#fff"/>
<rect x="547" y="135" width="1" height="27" fill="#000"/>
<rect x="545" y="143" width="5" height="2" fill="#000"/>
<rect x="555" y="122" width="1" height="26" fill="#000"/>
<rect x="553" y="128" width="5" height="18" fill="#000"/>
<rect x="554" y="129" width="3" height="16" fill="#fff"/>
<rect x="563" y="116" width="1" height="24" fill="#000"/>
<rect x="561" y="124" width="5" height="4" fill="#000"/>
<rect x="562" y="125" width="3" height="2" fill="#fff"/>
<rect x="571" y="105" width="1" height="25" fill="#000"/>
<rect x="569" y="111" width="5" height="15" fill="#000"/>
<rect x="570" y="112" width="3" height="13" fill="#fff"/>
<rect x="579" y="113" width="1" height="35" fill="#000"/>
<rect x="577" y="116" width="5" height="6" fill="#000"/>
<rect x="587" y="82" width="1" height="43" fill="#000"/>
<rect x="585" y="96" width="5" height="27" fill="#000"/>
<rect x="586" y="97" width="3" height="25" fill="#fff"/>
<rect x="595" y="57" width="1" height="43" fill="#000"/>
<rect x="593" y="59" width="5" height="39" fill="#000"/>
<rect x="594" y="60" width="3" height="37" fill="#fff"/>
<rect x="603" y="47" width="1" height="16" fill="#000"/>
<rect x="601" y="60" width="5" height="1" fill="#000"/>
<path d="M619.5 81.5 L624.5 86.5 H621.5 V92.5 H617.5 V86.5 H614.5 Z" fill="#fff" stroke="#ff0000" stroke-width="1"/>
</g>
<g clip-path="url(#cr)">
<polyline points="3.3,273.6 11.4,271.1 19.4,269.8 27.4,268.6 35.4,269.8 53.5,269.8 59.5,267.0 67.5,265.3 75.5,269.1 83.5,275.3 91.4,275.3 99.6,273.6 107.6,270.3 115.6,272.5 123.6,276.2 131.7,280.3 136.0,277.1 143.5,273.1 156.0,276.4 163.5,273.6 173.5,271.4 186.0,268.9 196.0,271.4 202.0,273.1 216.0,270.6 221.0,269.9 236.0,269.9 248.5,270.6 258.5,268.1 266.0,269.4 276.0,271.9 286.0,270.6 296.0,268.1 306.0,266.1 311.0,268.1 323.5,268.6 331.0,267.4 340.0,269.9 347.5,269.9 355.5,276.7 373.8,271.1 387.6,269.9 396.4,271.1 403.9,274.1 411.4,272.4 420.2,273.6 430.2,273.6 440.3,272.4 450.3,274.9 459.8,279.4 467.8,269.4 475.3,269.9 484.1,269.1 490.4,270.6 500.4,269.1 510.4,267.9 515.4,268.6 524.2,274.1 531.7,274.1 538.0,271.1 544.0,269.4 549.0,268.6 562.8,266.1 571.6,263.6 579.1,266.1 595.4,258.1 602.9,258.1" fill="none" stroke="#1e90ff" stroke-width="1" stroke-linejoin="round"/>
<polyline points="3.0,271.0 18.4,271.0 20.0,271.0 66.8,271.0 67.7,270.0 75.2,270.0 76.0,269.0 82.7,269.0 83.5,270.0 106.9,270.0 107.8,271.0 122.8,271.0 124.5,272.0 131.2,272.0 132.0,273.0 136.0,275.0 156.0,276.0 179.7,275.0 196.0,273.0 216.0,272.0 236.0,271.0 261.0,270.0 283.5,270.0 286.0,269.0 306.0,269.0 323.5,269.0 340.0,269.0 347.5,269.0 348.8,270.0 393.9,270.0 396.4,271.0 411.4,271.0 412.7,272.0 450.3,272.0 451.5,273.0 482.9,273.0 484.1,272.0 506.7,272.0 507.9,271.0 539.2,271.0 540.5,270.0 544.0,270.0 564.0,270.0 587.9,269.0 595.4,268.0 603.6,266.0" fill="none" stroke="#ff0000" stroke-width="2" stroke-linejoin="round"/>
</g>
<g clip-path="url(#cs)">
<path d="M3 381h1v1h-1zM4 380h1v1h-1zM5 379h1v1h-1zM9 375h1v1h-1zM10 374h1v1h-1zM11 373h1v1h-1zM14 369h1v1h-1zM15 368h1v1h-1zM16 367h1v1h-1zM19 363h1v1h-1zM20 362h1v1h-1zM21 361h1v1h-1zM24 357h1v1h-1zM25 356h1v1h-1zM25 355h1v1h-1zM29 351h1v1h-1zM30 350h1v1h-1zM31 349h1v1h-1zM34 345h1v1h-1zM35 344h1v1h-1zM36 344h1v1h-1zM40 343h1v1h-1zM41 343h1v1h-1zM42 342h1v1h-1zM46 344h1v1h-1zM47 345h1v1h-1zM48 345h1v1h-1zM52 348h1v1h-1zM53 348h1v1h-1zM54 349h1v1h-1zM58 351h1v1h-1zM59 351h1v1h-1zM60 351h1v1h-1zM64 352h1v1h-1zM65 353h1v1h-1zM66 353h1v1h-1zM70 352h1v1h-1zM71 352h1v1h-1zM72 352h1v1h-1zM76 352h1v1h-1zM77 352h1v1h-1zM78 353h1v1h-1zM82 355h1v1h-1zM83 355h1v1h-1zM84 356h1v1h-1zM88 360h1v1h-1zM89 361h1v1h-1zM90 362h1v1h-1zM93 366h1v1h-1zM94 367h1v1h-1zM94 368h1v1h-1zM97 372h1v1h-1zM98 373h1v1h-1zM98 374h1v1h-1zM102 375h1v1h-1zM103 375h1v1h-1zM104 374h1v1h-1zM108 373h1v1h-1zM109 373h1v1h-1zM110 372h1v1h-1zM114 370h1v1h-1zM115 369h1v1h-1zM116 369h1v1h-1zM120 367h1v1h-1zM121 366h1v1h-1zM122 366h1v1h-1zM126 366h1v1h-1zM127 366h1v1h-1zM128 366h1v1h-1zM132 367h1v1h-1zM133 368h1v1h-1zM134 368h1v1h-1zM138 369h1v1h-1zM139 369h1v1h-1zM140 369h1v1h-1zM144 368h1v1h-1zM145 368h1v1h-1zM146 368h1v1h-1zM150 366h1v1h-1zM151 365h1v1h-1zM152 364h1v1h-1zM156 361h1v1h-1zM157 360h1v1h-1zM158 359h1v1h-1zM162 355h1v1h-1zM163 354h1v1h-1zM164 353h1v1h-1zM168 350h1v1h-1zM169 349h1v1h-1zM170 348h1v1h-1zM174 344h1v1h-1zM175 343h1v1h-1zM175 342h1v1h-1zM179 338h1v1h-1zM180 337h1v1h-1zM181 337h1v1h-1zM185 334h1v1h-1zM186 333h1v1h-1zM187 332h1v1h-1zM191 332h1v1h-1zM192 331h1v1h-1zM193 331h1v1h-1zM197 332h1v1h-1zM198 333h1v1h-1zM199 334h1v1h-1zM203 336h1v1h-1zM204 337h1v1h-1zM204 338h1v1h-1zM207 342h1v1h-1zM207 343h1v1h-1zM208 344h1v1h-1zM210 348h1v1h-1zM211 349h1v1h-1zM212 350h1v1h-1zM215 354h1v1h-1zM216 355h1v1h-1zM217 356h1v1h-1zM220 360h1v1h-1zM221 360h1v1h-1zM222 361h1v1h-1zM226 363h1v1h-1zM227 363h1v1h-1zM228 363h1v1h-1zM232 361h1v1h-1zM233 361h1v1h-1zM234 360h1v1h-1zM238 358h1v1h-1zM239 357h1v1h-1zM240 356h1v1h-1zM244 354h1v1h-1zM245 353h1v1h-1zM246 353h1v1h-1zM250 351h1v1h-1zM251 351h1v1h-1zM252 351h1v1h-1zM256 349h1v1h-1zM257 349h1v1h-1zM258 348h1v1h-1zM262 348h1v1h-1zM263 348h1v1h-1zM264 348h1v1h-1zM268 348h1v1h-1zM269 348h1v1h-1zM270 348h1v1h-1zM274 349h1v1h-1zM275 349h1v1h-1zM276 350h1v1h-1zM280 352h1v1h-1zM281 353h1v1h-1zM282 353h1v1h-1zM286 357h1v1h-1zM287 358h1v1h-1zM288 358h1v1h-1zM292 361h1v1h-1zM293 361h1v1h-1zM294 361h1v1h-1zM298 361h1v1h-1zM299 361h1v1h-1zM300 360h1v1h-1zM303 356h1v1h-1zM304 355h1v1h-1zM305 354h1v1h-1zM309 350h1v1h-1zM310 349h1v1h-1zM311 348h1v1h-1zM315 344h1v1h-1zM316 344h1v1h-1zM317 344h1v1h-1zM321 343h1v1h-1zM322 343h1v1h-1zM323 343h1v1h-1zM327 345h1v1h-1zM328 346h1v1h-1zM329 346h1v1h-1zM333 348h1v1h-1zM334 349h1v1h-1zM335 349h1v1h-1zM339 351h1v1h-1zM340 351h1v1h-1zM341 352h1v1h-1zM345 353h1v1h-1zM346 354h1v1h-1zM347 354h1v1h-1zM351 358h1v1h-1zM352 358h1v1h-1zM353 359h1v1h-1zM357 363h1v1h-1zM358 364h1v1h-1zM359 365h1v1h-1zM362 369h1v1h-1zM363 370h1v1h-1zM364 371h1v1h-1zM368 374h1v1h-1zM369 375h1v1h-1zM370 376h1v1h-1zM374 375h1v1h-1zM375 375h1v1h-1zM376 374h1v1h-1zM380 371h1v1h-1zM381 370h1v1h-1zM382 369h1v1h-1zM385 365h1v1h-1zM386 364h1v1h-1zM387 363h1v1h-1zM389 359h1v1h-1zM390 358h1v1h-1zM391 357h1v1h-1zM393 353h1v1h-1zM394 352h1v1h-1zM394 351h1v1h-1zM398 349h1v1h-1zM399 349h1v1h-1zM400 348h1v1h-1zM404 347h1v1h-1zM405 347h1v1h-1zM406 347h1v1h-1zM410 347h1v1h-1zM411 347h1v1h-1zM412 348h1v1h-1zM414 352h1v1h-1zM414 353h1v1h-1zM415 354h1v1h-1zM417 358h1v1h-1zM417 359h1v1h-1zM418 360h1v1h-1zM421 364h1v1h-1zM422 365h1v1h-1zM423 366h1v1h-1zM426 370h1v1h-1zM427 371h1v1h-1zM428 372h1v1h-1zM432 375h1v1h-1zM433 376h1v1h-1zM434 376h1v1h-1zM438 376h1v1h-1zM439 375h1v1h-1zM440 375h1v1h-1zM444 372h1v1h-1zM445 372h1v1h-1zM446 371h1v1h-1zM450 368h1v1h-1zM451 367h1v1h-1zM452 367h1v1h-1zM456 366h1v1h-1zM457 366h1v1h-1zM458 366h1v1h-1zM462 365h1v1h-1zM463 364h1v1h-1zM464 364h1v1h-1zM468 362h1v1h-1zM469 361h1v1h-1zM470 361h1v1h-1zM474 359h1v1h-1zM475 358h1v1h-1zM476 357h1v1h-1zM479 353h1v1h-1zM480 352h1v1h-1zM481 351h1v1h-1zM485 347h1v1h-1zM486 346h1v1h-1zM487 346h1v1h-1zM491 342h1v1h-1zM492 341h1v1h-1zM493 341h1v1h-1zM497 338h1v1h-1zM498 338h1v1h-1zM499 337h1v1h-1zM503 339h1v1h-1zM504 339h1v1h-1zM505 339h1v1h-1zM509 341h1v1h-1zM510 341h1v1h-1zM511 341h1v1h-1zM515 342h1v1h-1zM516 343h1v1h-1zM517 344h1v1h-1zM521 348h1v1h-1zM522 349h1v1h-1zM523 350h1v1h-1zM526 354h1v1h-1zM527 355h1v1h-1zM528 356h1v1h-1zM531 360h1v1h-1zM532 361h1v1h-1zM533 362h1v1h-1zM537 366h1v1h-1zM538 367h1v1h-1zM539 368h1v1h-1zM543 368h1v1h-1zM544 367h1v1h-1zM545 367h1v1h-1zM549 365h1v1h-1zM550 364h1v1h-1zM551 363h1v1h-1zM555 359h1v1h-1zM556 358h1v1h-1zM556 357h1v1h-1zM559 353h1v1h-1zM560 352h1v1h-1zM560 351h1v1h-1zM563 347h1v1h-1zM564 346h1v1h-1zM564 345h1v1h-1zM567 341h1v1h-1zM568 340h1v1h-1zM568 339h1v1h-1zM571 335h1v1h-1zM572 334h1v1h-1zM573 334h1v1h-1zM577 331h1v1h-1zM578 330h1v1h-1zM579 329h1v1h-1zM583 329h1v1h-1zM584 329h1v1h-1zM585 329h1v1h-1zM589 329h1v1h-1zM590 329h1v1h-1zM591 330h1v1h-1zM595 330h1v1h-1zM596 330h1v1h-1zM597 330h1v1h-1zM601 330h1v1h-1zM602 330h1v1h-1zM603 330h1v1h-1z" fill="#ff0000"/>
<polyline points="3.0,376.0 11.5,366.2 19.5,354.3 27.5,341.4 35.5,339.2 43.5,346.9 51.5,357.0 59.5,355.7 67.5,348.4 75.5,348.4 83.5,363.5 91.5,377.2 99.5,378.2 107.5,369.9 115.5,361.3 123.5,364.4 131.5,375.0 139.5,370.8 147.5,363.0 155.5,354.7 163.5,349.1 171.5,341.2 179.5,328.2 187.5,328.2 195.5,334.5 203.5,348.5 211.5,362.4 219.5,367.2 227.5,362.0 235.5,352.6 243.5,349.1 251.5,350.1 259.5,346.0 267.5,349.1 275.5,352.6 283.5,362.0 291.5,367.0 299.5,352.2 307.5,339.1 315.5,340.8 323.5,349.5 331.5,354.3 339.5,354.7 347.5,355.3 355.5,373.5 363.5,378.2 371.5,377.0 379.5,363.0 387.5,348.5 395.5,338.5 403.5,348.5 411.5,358.9 419.5,379.7 427.5,375.1 435.5,377.0 443.5,368.2 451.5,359.5 459.5,371.4 467.5,356.2 475.5,350.1 483.5,335.5 491.5,340.8 499.5,337.4 507.5,342.8 515.5,346.4 523.5,363.0 531.5,372.4 539.5,371.4 547.5,362.0 555.5,346.4 563.5,335.3 571.5,325.1 579.5,328.7 587.5,332.4 595.5,330.3 603.5,328.2" fill="none" stroke="#20b2aa" stroke-width="1" stroke-linejoin="round"/>
</g>
<g clip-path="url(#cd)">
<rect x="3" y="421" width="1" height="10" fill="#ff0000"/>
<rect x="11" y="421" width="1" height="8" fill="#ff0000"/>
<rect x="19" y="421" width="1" height="7" fill="#ff0000"/>
<rect x="27" y="421" width="1" height="1" fill="#ff0000"/>
<rect x="35" y="420" width="1" height="2" fill="#008000"/>
<rect x="43" y="418" width="1" height="4" fill="#008000"/>
<rect x="51" y="417" width="1" height="5" fill="#008000"/>
<rect x="59" y="414" width="1" height="8" fill="#008000"/>
<rect x="67" y="412" width="1" height="10" fill="#008000"/>
<rect x="75" y="413" width="1" height="9" fill="#008000"/>
<rect x="83" y="421" width="1" height="1" fill="#008000"/>
<rect x="91" y="421" width="1" height="6" fill="#ff0000"/>
<rect x="99" y="421" width="1" height="9" fill="#ff0000"/>
<rect x="107" y="421" width="1" height="7" fill="#ff0000"/>
<rect x="115" y="421" width="1" height="7" fill="#ff0000"/>
<rect x="123" y="421" width="1" height="11" fill="#ff0000"/>
<rect x="131" y="421" width="1" height="19" fill="#ff0000"/>
<rect x="139" y="421" width="1" height="15" fill="#ff0000"/>
<rect x="147" y="421" width="1" height="11" fill="#ff0000"/>
<rect x="155" y="421" width="1" height="11" fill="#ff0000"/>
<rect x="163" y="421" width="1" height="8" fill="#ff0000"/>
<rect x="171" y="421" width="1" height="3" fill="#ff0000"/>
<rect x="179" y="419" width="1" height="3" fill="#008000"/>
<rect x="187" y="413" width="1" height="9" fill="#008000"/>
<rect x="195" y="411" width="1" height="11" fill="#008000"/>
<rect x="203" y="413" width="1" height="9" fill="#008000"/>
<rect x="211" y="414" width="1" height="8" fill="#008000"/>
<rect x="219" y="413" width="1" height="9" fill="#008000"/>
<rect x="227" y="415" width="1" height="7" fill="#008000"/>
<rect x="235" y="415" width="1" height="7" fill="#008000"/>
<rect x="243" y="415" width="1" height="7" fill="#008000"/>
<rect x="251" y="417" width="1" height="5" fill="#008000"/>
<rect x="259" y="415" width="1" height="7" fill="#008000"/>
<rect x="267" y="415" width="1" height="7" fill="#008000"/>
<rect x="275" y="418" width="1" height="4" fill="#008000"/>
<rect x="283" y="419" width="1" height="3" fill="#008000"/>
<rect x="291" y="420" width="1" height="2" fill="#008000"/>
<rect x="299" y="418" width="1" height="4" fill="#008000"/>
<rect x="307" y="415" width="1" height="7" fill="#008000"/>
<rect x="315" y="417" width="1" height="5" fill="#008000"/>
<rect x="323" y="418" width="1" height="4" fill="#008000"/>
<rect x="331" y="416" width="1" height="6" fill="#008000"/>
<rect x="339" y="418" width="1" height="4" fill="#008000"/>
<rect x="347" y="420" width="1" height="2" fill="#008000"/>
<rect x="355" y="421" width="1" height="5" fill="#ff0000"/>
<rect x="363" y="421" width="1" height="10" fill="#ff0000"/>
<rect x="371" y="421" width="1" height="9" fill="#ff0000"/>
<rect x="379" y="421" width="1" height="8" fill="#ff0000"/>
<rect x="387" y="421" width="1" height="7" fill="#ff0000"/>
<rect x="395" y="421" width="1" height="3" fill="#ff0000"/>
<rect x="403" y="421" width="1" height="6" fill="#ff0000"/>
<rect x="411" y="421" width="1" height="5" fill="#ff0000"/>
<rect x="419" y="421" width="1" height="5" fill="#ff0000"/>
<rect x="427" y="421" width="1" height="5" fill="#ff0000"/>
<rect x="435" y="421" width="1" height="3" fill="#ff0000"/>
<rect x="443" y="421" width="1" height="3" fill="#ff0000"/>
<rect x="451" y="421" width="1" height="5" fill="#ff0000"/>
<rect x="459" y="421" width="1" height="8" fill="#ff0000"/>
<rect x="467" y="421" width="1" height="3" fill="#ff0000"/>
<rect x="475" y="421" width="1" height="1" fill="#ff0000"/>
<rect x="483" y="419" width="1" height="3" fill="#008000"/>
<rect x="491" y="419" width="1" height="3" fill="#008000"/>
<rect x="499" y="417" width="1" height="5" fill="#008000"/>
<rect x="507" y="415" width="1" height="7" fill="#008000"/>
<rect x="515" y="414" width="1" height="8" fill="#008000"/>
<rect x="523" y="418" width="1" height="4" fill="#008000"/>
<rect x="539" y="421" width="1" height="1" fill="#008000"/>
<rect x="547" y="420" width="1" height="2" fill="#008000"/>
<rect x="555" y="418" width="1" height="4" fill="#008000"/>
<rect x="563" y="416" width="1" height="6" fill="#008000"/>
<rect x="571" y="413" width="1" height="9" fill="#008000"/>
<rect x="579" y="412" width="1" height="10" fill="#008000"/>
<rect x="587" y="410" width="1" height="12" fill="#008000"/>
<rect x="595" y="404" width="1" height="18" fill="#008000"/>
<rect x="603" y="402" width="1" height="20" fill="#008000"/>
<path d="M3 433h1v1h-1zM4 433h1v1h-1zM5 433h1v1h-1zM9 433h1v1h-1zM10 433h1v1h-1zM11 433h1v1h-1zM15 434h1v1h-1zM16 434h1v1h-1zM17 434h1v1h-1zM21 434h1v1h-1zM22 434h1v1h-1zM23 435h1v1h-1zM27 435h1v1h-1zM28 435h1v1h-1zM29 435h1v1h-1zM33 436h1v1h-1zM34 436h1v1h-1zM35 436h1v1h-1zM39 437h1v1h-1zM40 437h1v1h-1zM41 437h1v1h-1zM45 437h1v1h-1zM46 437h1v1h-1zM47 437h1v1h-1zM51 437h1v1h-1zM52 437h1v1h-1zM53 437h1v1h-1zM57 437h1v1h-1zM58 437h1v1h-1zM59 437h1v1h-1zM63 436h1v1h-1zM64 435h1v1h-1zM65 435h1v1h-1zM69 434h1v1h-1zM70 434h1v1h-1zM71 434h1v1h-1zM75 433h1v1h-1zM76 433h1v1h-1zM77 433h1v1h-1zM81 432h1v1h-1zM82 431h1v1h-1zM83 431h1v1h-1zM87 431h1v1h-1zM88 431h1v1h-1zM89 431h1v1h-1zM93 431h1v1h-1zM94 431h1v1h-1zM95 431h1v1h-1zM99 431h1v1h-1zM100 431h1v1h-1zM101 431h1v1h-1zM105 432h1v1h-1zM106 432h1v1h-1zM107 432h1v1h-1zM111 432h1v1h-1zM112 432h1v1h-1zM113 432h1v1h-1zM117 433h1v1h-1zM118 433h1v1h-1zM119 433h1v1h-1zM123 434h1v1h-1zM124 435h1v1h-1zM125 435h1v1h-1zM129 437h1v1h-1zM130 438h1v1h-1zM131 438h1v1h-1zM135 440h1v1h-1zM136 440h1v1h-1zM137 440h1v1h-1zM141 442h1v1h-1zM142 442h1v1h-1zM143 443h1v1h-1zM147 444h1v1h-1zM148 445h1v1h-1zM149 445h1v1h-1zM153 447h1v1h-1zM154 448h1v1h-1zM155 448h1v1h-1zM159 449h1v1h-1zM160 449h1v1h-1zM161 449h1v1h-1zM165 449h1v1h-1zM166 449h1v1h-1zM167 450h1v1h-1zM171 450h1v1h-1zM172 450h1v1h-1zM173 450h1v1h-1zM177 450h1v1h-1zM178 450h1v1h-1zM179 450h1v1h-1zM183 450h1v1h-1zM184 449h1v1h-1zM185 449h1v1h-1zM189 449h1v1h-1zM190 449h1v1h-1zM191 449h1v1h-1zM195 449h1v1h-1zM196 449h1v1h-1zM197 449h1v1h-1zM201 448h1v1h-1zM202 448h1v1h-1zM203 448h1v1h-1zM207 448h1v1h-1zM208 447h1v1h-1zM209 447h1v1h-1zM213 447h1v1h-1zM214 447h1v1h-1zM215 447h1v1h-1zM219 446h1v1h-1zM220 446h1v1h-1zM221 446h1v1h-1zM225 445h1v1h-1zM226 444h1v1h-1zM227 444h1v1h-1zM231 443h1v1h-1zM232 443h1v1h-1zM233 443h1v1h-1zM237 441h1v1h-1zM238 441h1v1h-1zM239 441h1v1h-1zM243 439h1v1h-1zM244 439h1v1h-1zM245 439h1v1h-1zM249 438h1v1h-1zM250 438h1v1h-1zM251 438h1v1h-1zM255 437h1v1h-1zM256 437h1v1h-1zM257 437h1v1h-1zM261 436h1v1h-1zM262 436h1v1h-1zM263 436h1v1h-1zM267 435h1v1h-1zM268 435h1v1h-1zM269 435h1v1h-1zM273 434h1v1h-1zM274 434h1v1h-1zM275 434h1v1h-1zM279 433h1v1h-1zM280 433h1v1h-1zM281 433h1v1h-1zM285 432h1v1h-1zM286 431h1v1h-1zM287 431h1v1h-1zM291 430h1v1h-1zM292 430h1v1h-1zM293 430h1v1h-1zM297 429h1v1h-1zM298 429h1v1h-1zM299 429h1v1h-1zM303 429h1v1h-1zM304 428h1v1h-1zM305 428h1v1h-1zM309 428h1v1h-1zM310 428h1v1h-1zM311 428h1v1h-1zM315 427h1v1h-1zM316 427h1v1h-1zM317 427h1v1h-1zM321 426h1v1h-1zM322 425h1v1h-1zM323 425h1v1h-1zM327 425h1v1h-1zM328 425h1v1h-1zM329 425h1v1h-1zM333 425h1v1h-1zM334 424h1v1h-1zM335 424h1v1h-1zM339 423h1v1h-1zM340 423h1v1h-1zM341 423h1v1h-1zM345 423h1v1h-1zM346 423h1v1h-1zM347 423h1v1h-1zM351 423h1v1h-1zM352 423h1v1h-1zM353 423h1v1h-1zM357 423h1v1h-1zM358 423h1v1h-1zM359 423h1v1h-1zM363 423h1v1h-1zM364 423h1v1h-1zM365 423h1v1h-1zM369 424h1v1h-1zM370 424h1v1h-1zM371 424h1v1h-1zM375 425h1v1h-1zM376 425h1v1h-1zM377 425h1v1h-1zM381 426h1v1h-1zM382 426h1v1h-1zM383 426h1v1h-1zM387 427h1v1h-1zM388 427h1v1h-1zM389 428h1v1h-1zM393 429h1v1h-1zM394 429h1v1h-1zM395 429h1v1h-1zM399 430h1v1h-1zM400 430h1v1h-1zM401 430h1v1h-1zM405 431h1v1h-1zM406 431h1v1h-1zM407 431h1v1h-1zM411 432h1v1h-1zM412 432h1v1h-1zM413 433h1v1h-1zM417 434h1v1h-1zM418 434h1v1h-1zM419 434h1v1h-1zM423 435h1v1h-1zM424 435h1v1h-1zM425 435h1v1h-1zM429 435h1v1h-1zM430 435h1v1h-1zM431 436h1v1h-1zM435 436h1v1h-1zM436 436h1v1h-1zM437 436h1v1h-1zM441 437h1v1h-1zM442 437h1v1h-1zM443 437h1v1h-1zM447 438h1v1h-1zM448 438h1v1h-1zM449 438h1v1h-1zM453 439h1v1h-1zM454 439h1v1h-1zM455 439h1v1h-1zM459 440h1v1h-1zM460 440h1v1h-1zM461 440h1v1h-1zM465 441h1v1h-1zM466 441h1v1h-1zM467 441h1v1h-1zM471 441h1v1h-1zM472 441h1v1h-1zM473 441h1v1h-1zM477 441h1v1h-1zM478 441h1v1h-1zM479 441h1v1h-1zM483 441h1v1h-1zM484 441h1v1h-1zM485 441h1v1h-1zM489 441h1v1h-1zM490 441h1v1h-1zM491 441h1v1h-1zM495 441h1v1h-1zM496 440h1v1h-1zM497 440h1v1h-1zM501 440h1v1h-1zM502 440h1v1h-1zM503 440h1v1h-1zM507 439h1v1h-1zM508 439h1v1h-1zM509 439h1v1h-1zM513 439h1v1h-1zM514 439h1v1h-1zM515 439h1v1h-1zM519 439h1v1h-1zM520 438h1v1h-1zM521 438h1v1h-1zM525 438h1v1h-1zM526 438h1v1h-1zM527 438h1v1h-1zM531 437h1v1h-1zM532 437h1v1h-1zM533 437h1v1h-1zM537 436h1v1h-1zM538 436h1v1h-1zM539 436h1v1h-1zM543 436h1v1h-1zM544 435h1v1h-1zM545 435h1v1h-1zM549 435h1v1h-1zM550 435h1v1h-1zM551 435h1v1h-1zM555 434h1v1h-1zM556 434h1v1h-1zM557 434h1v1h-1zM561 433h1v1h-1zM562 432h1v1h-1zM563 432h1v1h-1zM567 432h1v1h-1zM568 431h1v1h-1zM569 431h1v1h-1zM573 431h1v1h-1zM574 430h1v1h-1zM575 430h1v1h-1zM579 429h1v1h-1zM580 429h1v1h-1zM581 429h1v1h-1zM585 428h1v1h-1zM586 428h1v1h-1zM587 428h1v1h-1zM591 427h1v1h-1zM592 427h1v1h-1zM593 427h1v1h-1zM597 425h1v1h-1zM598 425h1v1h-1zM599 425h1v1h-1zM603 423h1v1h-1z" fill="#ff0000"/>
</g>
<rect x="2.5" y="2.5" width="776" height="215" fill="none" stroke="#000" stroke-width="1"/>
<rect x="2.5" y="219.5" width="776" height="96" fill="none" stroke="#000" stroke-width="1"/>
<rect x="2.5" y="317.5" width="776" height="77" fill="none" stroke="#000" stroke-width="1"/>
<rect x="2.5" y="396.5" width="776" height="66" fill="none" stroke="#000" stroke-width="1"/>
<rect x="3" y="5" width="183" height="11" fill="#fff"/>
<path d="M3 7h1v1h-1z M4 8h1v1h-1z M3 9h1v1h-1z" fill="#000"/>
<path d="M767 10h2v1h-2z M770 10h3v1h-3z M767 11h4v1h-4z M768 12h3v2h-3z M766 14h3v1h-3z M770 14h3v1h-3z" fill="#000"/>
<rect x="5" y="224" width="154" height="11" fill="#fff"/>
<rect x="5" y="322" width="124" height="11" fill="#fff"/>
<rect x="5" y="401" width="192" height="11" fill="#fff"/>
<rect x="4" y="448" width="291" height="11" fill="#fff"/>
<text x="6.3" y="14" fill="#000" xml:space="preserve" text-rendering="geometricPrecision" filter="url(#th)" textLength="50.69" lengthAdjust="spacingAndGlyphs">USDJPY,H1</text>
<text x="63.4" y="14" fill="#000" xml:space="preserve" text-rendering="geometricPrecision" filter="url(#th)" textLength="28.5" lengthAdjust="spacingAndGlyphs">91.669</text>
<text x="94.7" y="14" fill="#000" xml:space="preserve" text-rendering="geometricPrecision" filter="url(#th)" textLength="28.2" lengthAdjust="spacingAndGlyphs">91.739</text>
<text x="125.5" y="14" fill="#000" xml:space="preserve" text-rendering="geometricPrecision" filter="url(#th)" textLength="28.4" lengthAdjust="spacingAndGlyphs">91.655</text>
<text x="156.4" y="14" fill="#000" xml:space="preserve" text-rendering="geometricPrecision" filter="url(#th)" textLength="27.49" lengthAdjust="spacingAndGlyphs">91.666</text>
<text x="689.5" y="15" fill="#000" xml:space="preserve" text-rendering="geometricPrecision" filter="url(#th)" textLength="69.4" lengthAdjust="spacingAndGlyphs">Moving Average</text>
<text x="6.2" y="233" fill="#000" xml:space="preserve" text-rendering="geometricPrecision" filter="url(#th)" textLength="31.4" lengthAdjust="spacingAndGlyphs">RSI(20)</text>
<text x="42.3" y="233" fill="#000" xml:space="preserve" text-rendering="geometricPrecision" filter="url(#th)" textLength="32.3" lengthAdjust="spacingAndGlyphs">60.2725</text>
<text x="80.2" y="233" fill="#000" xml:space="preserve" text-rendering="geometricPrecision" filter="url(#th)" textLength="40.9" lengthAdjust="spacingAndGlyphs">-&gt;MA(10)</text>
<text x="124.5" y="233" fill="#000" xml:space="preserve" text-rendering="geometricPrecision" filter="url(#th)" textLength="33.0" lengthAdjust="spacingAndGlyphs">52.3363</text>
<text x="6.5" y="331" fill="#000" xml:space="preserve" text-rendering="geometricPrecision" filter="url(#th)" textLength="49.1" lengthAdjust="spacingAndGlyphs">Stoch(5,3,3)</text>
<text x="60.2" y="331" fill="#000" xml:space="preserve" text-rendering="geometricPrecision" filter="url(#th)" textLength="32.0" lengthAdjust="spacingAndGlyphs">87.5878</text>
<text x="95.4" y="331" fill="#000" xml:space="preserve" text-rendering="geometricPrecision" filter="url(#th)" textLength="32.8" lengthAdjust="spacingAndGlyphs">84.6685</text>
<text x="6.6" y="410" fill="#000" xml:space="preserve" text-rendering="geometricPrecision" filter="url(#th)" textLength="65.5" lengthAdjust="spacingAndGlyphs">MACD(12,26,9)</text>
<text x="75.7" y="410" fill="#000" xml:space="preserve" text-rendering="geometricPrecision" filter="url(#th)" textLength="27.2" lengthAdjust="spacingAndGlyphs">0.0720</text>
<text x="106.9" y="410" fill="#000" xml:space="preserve" text-rendering="geometricPrecision" filter="url(#th)" textLength="27.4" lengthAdjust="spacingAndGlyphs">0.0019</text>
<text x="137.5" y="410" fill="#000" xml:space="preserve" text-rendering="geometricPrecision" filter="url(#th)" textLength="26.39" lengthAdjust="spacingAndGlyphs">0.0701</text>
<text x="169.3" y="410" fill="#000" xml:space="preserve" text-rendering="geometricPrecision" filter="url(#th)" textLength="27.2" lengthAdjust="spacingAndGlyphs">0.0000</text>
<text x="5.4" y="457" fill="#000" xml:space="preserve" text-rendering="geometricPrecision" filter="url(#th)" textLength="50.5" lengthAdjust="spacingAndGlyphs">MetaTrader</text>
<text x="60.5" y="457" fill="#000" xml:space="preserve" text-rendering="geometricPrecision" filter="url(#th)" textLength="4.7" lengthAdjust="spacingAndGlyphs">-</text>
<text x="66.8" y="457" fill="#000" xml:space="preserve" text-rendering="geometricPrecision" filter="url(#th)" textLength="25.7" lengthAdjust="spacingAndGlyphs">Alpari</text>
<text x="95.2" y="457" fill="#000" xml:space="preserve" text-rendering="geometricPrecision" filter="url(#th)" textLength="16.8" lengthAdjust="spacingAndGlyphs">UK,</text>
<text x="114.7" y="457" fill="#000" xml:space="preserve" text-rendering="geometricPrecision" filter="url(#th)" textLength="4.4" lengthAdjust="spacingAndGlyphs">?</text>
<text x="124.3" y="457" fill="#000" xml:space="preserve" text-rendering="geometricPrecision" filter="url(#th)" textLength="41.82" lengthAdjust="spacingAndGlyphs">2001-2010</text>
<text x="169.8" y="457" fill="#000" xml:space="preserve" text-rendering="geometricPrecision" filter="url(#th)" textLength="51.9" lengthAdjust="spacingAndGlyphs">MetaQuotes</text>
<text x="225.7" y="457" fill="#000" xml:space="preserve" text-rendering="geometricPrecision" filter="url(#th)" textLength="39.5" lengthAdjust="spacingAndGlyphs">Software</text>
<text x="268.6" y="457" fill="#000" xml:space="preserve" text-rendering="geometricPrecision" filter="url(#th)" textLength="25.5" lengthAdjust="spacingAndGlyphs">Corp.</text>
<g clip-path="url(#cd)">
<polyline points="3.0,442.4 11.5,442.4 19.5,440.6 27.5,436.1 35.5,434.2 43.5,433.1 51.5,431.8 59.5,428.7 67.5,424.4 75.5,423.5 83.5,430.0 91.5,435.5 99.5,439.3 107.5,438.3 115.5,439.8 123.5,444.8 131.5,454.1 139.5,456.0 147.5,455.5 155.5,459.1 163.5,456.9 171.5,453.2 179.5,448.0 187.5,443.9 195.5,441.1 203.5,441.1 211.5,441.1 219.5,438.7 227.5,436.8 235.5,434.6 243.5,433.1 251.5,431.8 259.5,429.4 267.5,428.5 275.5,429.4 283.5,429.6 291.5,429.4 299.5,425.3 307.5,422.0 315.5,422.0 323.5,421.2 331.5,419.4 339.5,420.1 347.5,420.7 355.5,430.0 363.5,434.6 371.5,434.6 379.5,434.2 387.5,433.3 395.5,433.3 403.5,436.1 411.5,437.4 419.5,439.3 427.5,440.2 435.5,439.8 443.5,439.8 451.5,442.0 459.5,448.2 467.5,443.9 475.5,441.7 483.5,438.7 491.5,437.0 499.5,434.6 507.5,433.1 515.5,431.3 523.5,433.7 531.5,436.5 539.5,434.6 547.5,433.7 555.5,429.6 563.5,426.2 571.5,422.8 579.5,420.1 587.5,416.0 595.5,408.6 603.5,401.5" fill="none" stroke="#00ffff" stroke-width="1" stroke-linejoin="round"/>
</g>
<rect x="779" y="23" width="2" height="1" fill="#000"/>
<rect x="779" y="55" width="2" height="1" fill="#000"/>
<rect x="779" y="87" width="2" height="1" fill="#000"/>
<rect x="779" y="119" width="2" height="1" fill="#000"/>
<rect x="779" y="151" width="2" height="1" fill="#000"/>
<rect x="779" y="183" width="2" height="1" fill="#000"/>
<rect x="779" y="215" width="2" height="1" fill="#000"/>
<text x="783.8" y="26" fill="#000" xml:space="preserve" text-rendering="geometricPrecision" filter="url(#th)" textLength="27.3" lengthAdjust="spacingAndGlyphs">91.870</text>
<text x="783.8" y="58" fill="#000" xml:space="preserve" text-rendering="geometricPrecision" filter="url(#th)" textLength="27.3" lengthAdjust="spacingAndGlyphs">91.695</text>
<text x="783.8" y="90" fill="#000" xml:space="preserve" text-rendering="geometricPrecision" filter="url(#th)" textLength="27.3" lengthAdjust="spacingAndGlyphs">91.515</text>
<text x="783.8" y="122" fill="#000" xml:space="preserve" text-rendering="geometricPrecision" filter="url(#th)" textLength="27.3" lengthAdjust="spacingAndGlyphs">91.340</text>
<text x="783.8" y="154" fill="#000" xml:space="preserve" text-rendering="geometricPrecision" filter="url(#th)" textLength="27.3" lengthAdjust="spacingAndGlyphs">91.165</text>
<text x="783.8" y="186" fill="#000" xml:space="preserve" text-rendering="geometricPrecision" filter="url(#th)" textLength="27.3" lengthAdjust="spacingAndGlyphs">90.985</text>
<text x="783.8" y="218" fill="#000" xml:space="preserve" text-rendering="geometricPrecision" filter="url(#th)" textLength="27.3" lengthAdjust="spacingAndGlyphs">90.810</text>
<rect x="779" y="60" width="2" height="1" fill="#c0c0c0"/>
<rect x="781" y="55" width="34" height="10" fill="#000"/>
<rect x="781" y="76" width="34" height="11" fill="#ff0000"/>
<text x="784.2" y="63" fill="#fff" xml:space="preserve" text-rendering="geometricPrecision" filter="url(#th)" textLength="26.71" lengthAdjust="spacingAndGlyphs">91.666</text>
<text x="784.2" y="85" fill="#fff" xml:space="preserve" text-rendering="geometricPrecision" filter="url(#th)" textLength="28.01" lengthAdjust="spacingAndGlyphs">91.544</text>
<rect x="779" y="221" width="1" height="1" fill="#000"/>
<rect x="779" y="314" width="1" height="1" fill="#000"/>
<rect x="779" y="319" width="1" height="1" fill="#000"/>
<rect x="779" y="393" width="1" height="1" fill="#000"/>
<rect x="779" y="398" width="1" height="1" fill="#000"/>
<rect x="779" y="421" width="1" height="1" fill="#000"/>
<rect x="779" y="460" width="1" height="1" fill="#000"/>
<text x="782.0" y="230" fill="#000" xml:space="preserve" text-rendering="geometricPrecision" filter="url(#th)" textLength="14.3" lengthAdjust="spacingAndGlyphs">100</text>
<text x="781.5" y="312" fill="#000" xml:space="preserve" text-rendering="geometricPrecision" filter="url(#th)" textLength="5.0" lengthAdjust="spacingAndGlyphs">0</text>
<text x="780.4" y="242" fill="#000" xml:space="preserve" text-rendering="geometricPrecision" filter="url(#th)" textLength="9.9" lengthAdjust="spacingAndGlyphs">80</text>
<text x="780.4" y="252" fill="#000" xml:space="preserve" text-rendering="geometricPrecision" filter="url(#th)" textLength="9.9" lengthAdjust="spacingAndGlyphs">70</text>
<text x="780.4" y="270" fill="#000" xml:space="preserve" text-rendering="geometricPrecision" filter="url(#th)" textLength="9.9" lengthAdjust="spacingAndGlyphs">50</text>
<text x="780.4" y="289" fill="#000" xml:space="preserve" text-rendering="geometricPrecision" filter="url(#th)" textLength="9.9" lengthAdjust="spacingAndGlyphs">30</text>
<text x="780.4" y="299" fill="#000" xml:space="preserve" text-rendering="geometricPrecision" filter="url(#th)" textLength="9.9" lengthAdjust="spacingAndGlyphs">20</text>
<text x="782.0" y="328" fill="#000" xml:space="preserve" text-rendering="geometricPrecision" filter="url(#th)" textLength="14.3" lengthAdjust="spacingAndGlyphs">100</text>
<text x="781.5" y="391" fill="#000" xml:space="preserve" text-rendering="geometricPrecision" filter="url(#th)" textLength="5.0" lengthAdjust="spacingAndGlyphs">0</text>
<text x="780.4" y="336" fill="#000" xml:space="preserve" text-rendering="geometricPrecision" filter="url(#th)" textLength="9.9" lengthAdjust="spacingAndGlyphs">80</text>
<text x="780.4" y="359" fill="#000" xml:space="preserve" text-rendering="geometricPrecision" filter="url(#th)" textLength="9.9" lengthAdjust="spacingAndGlyphs">50</text>
<text x="780.4" y="381" fill="#000" xml:space="preserve" text-rendering="geometricPrecision" filter="url(#th)" textLength="9.9" lengthAdjust="spacingAndGlyphs">20</text>
<text x="781.7" y="407" fill="#000" xml:space="preserve" text-rendering="geometricPrecision" filter="url(#th)" textLength="27.8" lengthAdjust="spacingAndGlyphs">0.0821</text>
<text x="781.7" y="424" fill="#000" xml:space="preserve" text-rendering="geometricPrecision" filter="url(#th)" textLength="17.5" lengthAdjust="spacingAndGlyphs">0.00</text>
<text x="781.7" y="459" fill="#000" xml:space="preserve" text-rendering="geometricPrecision" filter="url(#th)" textLength="30.9" lengthAdjust="spacingAndGlyphs">-0.1388</text>
<rect x="3" y="463" width="1" height="3" fill="#000"/>
<rect x="67" y="463" width="1" height="3" fill="#000"/>
<rect x="131" y="463" width="1" height="3" fill="#000"/>
<rect x="195" y="463" width="1" height="3" fill="#000"/>
<rect x="259" y="463" width="1" height="3" fill="#000"/>
<rect x="323" y="463" width="1" height="3" fill="#000"/>
<rect x="387" y="463" width="1" height="3" fill="#000"/>
<rect x="451" y="463" width="1" height="3" fill="#000"/>
<rect x="515" y="463" width="1" height="3" fill="#000"/>
<rect x="579" y="463" width="1" height="3" fill="#000"/>
<text x="1.5" y="475" fill="#000" xml:space="preserve" text-rendering="geometricPrecision" filter="url(#th)" textLength="44.7" lengthAdjust="spacingAndGlyphs">8 Jun 2010</text>
<text x="65.5" y="475" fill="#000" xml:space="preserve" text-rendering="geometricPrecision" filter="url(#th)" textLength="47.49" lengthAdjust="spacingAndGlyphs">8 Jun 08:00</text>
<text x="129.5" y="475" fill="#000" xml:space="preserve" text-rendering="geometricPrecision" filter="url(#th)" textLength="47.5" lengthAdjust="spacingAndGlyphs">8 Jun 16:00</text>
<text x="193.5" y="475" fill="#000" xml:space="preserve" text-rendering="geometricPrecision" filter="url(#th)" textLength="47.5" lengthAdjust="spacingAndGlyphs">9 Jun 00:00</text>
<text x="257.5" y="475" fill="#000" xml:space="preserve" text-rendering="geometricPrecision" filter="url(#th)" textLength="47.5" lengthAdjust="spacingAndGlyphs">9 Jun 08:00</text>
<text x="321.5" y="475" fill="#000" xml:space="preserve" text-rendering="geometricPrecision" filter="url(#th)" textLength="47.5" lengthAdjust="spacingAndGlyphs">9 Jun 16:00</text>
<text x="385.5" y="475" fill="#000" xml:space="preserve" text-rendering="geometricPrecision" filter="url(#th)" textLength="52.7" lengthAdjust="spacingAndGlyphs">10 Jun 00:00</text>
<text x="449.5" y="475" fill="#000" xml:space="preserve" text-rendering="geometricPrecision" filter="url(#th)" textLength="52.7" lengthAdjust="spacingAndGlyphs">10 Jun 08:00</text>
<text x="513.5" y="475" fill="#000" xml:space="preserve" text-rendering="geometricPrecision" filter="url(#th)" textLength="52.7" lengthAdjust="spacingAndGlyphs">10 Jun 16:00</text>
<text x="577.5" y="475" fill="#000" xml:space="preserve" text-rendering="geometricPrecision" filter="url(#th)" textLength="52.7" lengthAdjust="spacingAndGlyphs">11 Jun 00:00</text>
</svg></body></html>
